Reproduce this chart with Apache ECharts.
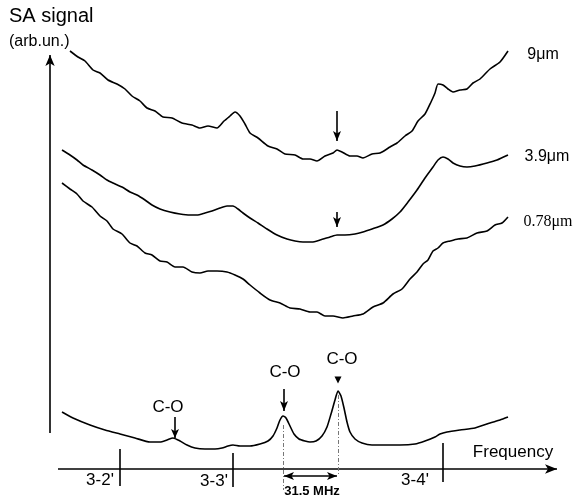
<!DOCTYPE html>
<html>
<head>
<meta charset="utf-8">
<script src="https://cdn.jsdelivr.net/npm/echarts@6/dist/echarts.min.js"></script>
<style>
html, body { margin: 0; padding: 0; background: #fff; }
#chart { width: 577px; height: 497px; }
</style>
</head>
<body>
<div id="chart"></div>
<script>
// SA spectra (arb. units), frequency in arb. units
const x9 = [70, 78, 85, 93, 100, 108, 117, 125, 132, 140, 147, 155, 163, 172, 182, 192, 200, 208, 217, 224, 230, 235, 240, 245, 250, 258, 268, 277, 285, 295, 303, 310, 317, 325, 333, 337, 342, 350, 357, 363, 372, 380, 390, 397, 405, 412, 418, 425, 431, 435, 438, 443, 448, 453, 460, 467, 473, 480, 490, 500, 508];
const y9 = [446, 440, 436, 427, 424, 417, 413, 408, 401, 396, 389, 386, 380, 379, 374, 372, 369, 371, 369, 376, 381, 385, 381, 373, 364, 359, 351, 348, 343, 342, 338, 338, 336, 341, 344, 347, 345, 341, 341, 339, 343, 344, 350, 354, 361, 366, 376, 383, 395, 404, 413, 412, 408, 405, 407, 408, 414, 418, 428, 435, 446];

const x39 = [62, 70, 77, 83, 92, 100, 107, 113, 122, 130, 137, 145, 152, 160, 170, 180, 190, 197, 205, 212, 220, 227, 233, 238, 243, 250, 258, 267, 277, 287, 295, 303, 312, 320, 330, 337, 345, 355, 363, 372, 383, 392, 400, 408, 417, 425, 433, 438, 443, 448, 453, 460, 467, 475, 487, 497, 508];
const y39 = [347, 342, 337, 332, 327, 322, 317, 314, 310, 305, 302, 297, 292, 288, 285, 283, 282, 282, 284, 286, 289, 291, 291, 288, 284, 279, 274, 268, 262, 258, 256, 255, 255, 257, 260, 262, 262, 263, 265, 268, 272, 278, 285, 295, 307, 319, 330, 337, 340, 338, 334, 331, 330, 331, 334, 337, 342];

const x078 = [62, 70, 77, 83, 92, 100, 107, 113, 122, 130, 137, 145, 152, 160, 167, 175, 183, 192, 200, 208, 217, 227, 235, 243, 250, 260, 270, 280, 290, 300, 310, 317, 325, 333, 343, 353, 363, 373, 383, 393, 402, 410, 417, 423, 428, 433, 438, 443, 450, 458, 467, 477, 487, 495, 502, 508];
const y078 = [314, 308, 303, 296, 290, 281, 276, 268, 263, 254, 251, 244, 242, 236, 235, 230, 230, 225, 224, 226, 226, 225, 222, 218, 212, 204, 197, 194, 189, 188, 185, 185, 181, 181, 179, 181, 183, 190, 194, 203, 208, 218, 225, 233, 237, 246, 249, 254, 256, 258, 259, 264, 266, 272, 274, 280];

// reference absorption spectrum (bottom trace)
const xRef = [62, 73, 90, 105, 120, 135, 150, 160, 167, 173, 180, 187, 195, 205, 215, 222, 228, 233, 240, 250, 260, 268, 273, 277, 280, 283, 286, 290, 294, 299, 305, 310, 316, 322, 327, 331, 335, 338, 341, 344, 347, 350, 355, 362, 372, 385, 400, 415, 425, 435, 440, 447, 460, 475, 490, 500, 508];
const yRef = [85, 79, 72, 67, 63, 59, 55, 55, 57, 59, 56, 52, 49, 48, 48, 49, 51, 52, 51, 51, 53, 56, 61, 69, 77, 81, 79, 71, 63, 58, 56, 55, 56, 61, 70, 83, 97, 106, 101, 89, 75, 65, 58, 54, 52, 52, 52, 53, 56, 60, 63, 65, 67, 69, 74, 77, 80];

// transition markers on the frequency axis
const tickFreq = [120, 233, 443];
const tickLabels = ["3-2'", "3-3'", "3-4'"];
const coFreq = [283, 338];   // C-O lines, 31.5 MHz apart

const BLACK = '#000';
const FONT = "'Liberation Sans', Arial, sans-serif";

let chartDom = document.getElementById('chart');
let myChart = echarts.init(chartDom);

function zip(xs, ys) {
    return xs.map((x, i) => [x, ys[i]]);
}

function lineSeries(name, xs, ys) {
    return {
        name: name,
        type: 'line',
        data: zip(xs, ys),
        showSymbol: false,
        smooth: 0.2,
        silent: true,
        lineStyle: { color: BLACK, width: 1.6 },
    };
}

function seg(x1, y1, x2, y2, opt) {
    opt = opt || {};
    return [
        { coord: [x1, y1], symbol: opt.s1 || 'none', symbolSize: opt.size || 8, lineStyle: opt.style },
        { coord: [x2, y2], symbol: opt.s2 || 'none', symbolSize: opt.size || 8 }
    ];
}

const dashStyle = { color: '#777', width: 1, type: [4, 2, 1, 2] };
const markLines = [
    // axes
    seg(50, 64, 50, 442, { s2: 'arrow', size: [7, 11] }),
    seg(58, 28, 557, 28, { s2: 'arrow', size: [7, 12] }),
    // transition ticks
    seg(tickFreq[0], 48, tickFreq[0], 11),
    seg(tickFreq[1], 44, tickFreq[1], 10),
    seg(tickFreq[2], 54, tickFreq[2], 15),
    // dash-dot guides under the C-O peaks
    seg(coFreq[0], 72, coFreq[0], 7, { style: dashStyle }),
    seg(coFreq[1], 102, coFreq[1], 21, { style: dashStyle }),
    // 31.5 MHz span
    seg(coFreq[0] + 1, 21, coFreq[1] - 1, 21, { s1: 'arrow', s2: 'arrow', size: [6, 10] }),
    // small markers
    seg(337, 386, 337, 356, { s2: 'arrow', size: [6, 10] }),
    seg(337, 285, 337, 270, { s2: 'arrow', size: [6, 10] }),
    seg(175, 80, 175, 59, { s2: 'arrow', size: [6, 9] }),
    seg(284, 108, 284, 86, { s2: 'arrow', size: [6, 10] })
];

let option = {
    animation: false,
    grid: { left: 0, right: 0, top: 0, bottom: 0 },
    xAxis: { type: 'value', min: 0, max: 577, show: false },
    yAxis: { type: 'value', min: 0, max: 497, show: false },
    series: [
        lineSeries('9um', x9, y9),
        lineSeries('3.9um', x39, y39),
        lineSeries('0.78um', x078, y078),
        Object.assign(lineSeries('ref', xRef, yRef), {
            markLine: {
                silent: true,
                symbol: ['none', 'none'],
                label: { show: false },
                lineStyle: { color: BLACK, width: 1.6, type: 'solid' },
                data: markLines
            },
            markPoint: {
                silent: true,
                symbol: 'triangle',
                symbolSize: [7, 7],
                symbolRotate: 180,
                itemStyle: { color: BLACK },
                label: { show: false },
                data: [{ coord: [338, 117] }]
            }
        })
    ],
    graphic: []
};

function txt(s, x, y, size, extra) {
    return {
        type: 'text',
        silent: true,
        style: Object.assign({
            text: s, x: x, y: y,
            font: size + 'px ' + FONT,
            fill: BLACK,
            align: 'center', verticalAlign: 'middle',
            textAlign: 'center', textVerticalAlign: 'middle'
        }, extra || {})
    };
}

const SERIF = "'Liberation Serif', 'Times New Roman', serif";

option.graphic = [
    txt('SA signal', 9, 16, 20, { align: 'left', textAlign: 'left' }),
    txt('(arb.un.)', 9, 42, 16, { align: 'left', textAlign: 'left' }),
    txt('9μm', 543, 55, 16),
    txt('3.9μm', 547, 157, 16),
    txt('0.78μm', 548, 222, 16, { font: '16px ' + SERIF }),
    txt('C-O', 168, 407, 17),
    txt('C-O', 285, 372, 17),
    txt('C-O', 342, 359, 17),
    txt(tickLabels[0], 100, 480, 17),
    txt(tickLabels[1], 214, 481, 17),
    txt(tickLabels[2], 415, 480, 17),
    txt('Frequency', 513, 452, 17),
    txt('31.5 MHz', 312, 491, 13, { font: 'bold 13px ' + FONT })
];

myChart.setOption(option);
window.addEventListener('resize', function() {
    myChart.resize();
});
</script>
</body>
</html>
